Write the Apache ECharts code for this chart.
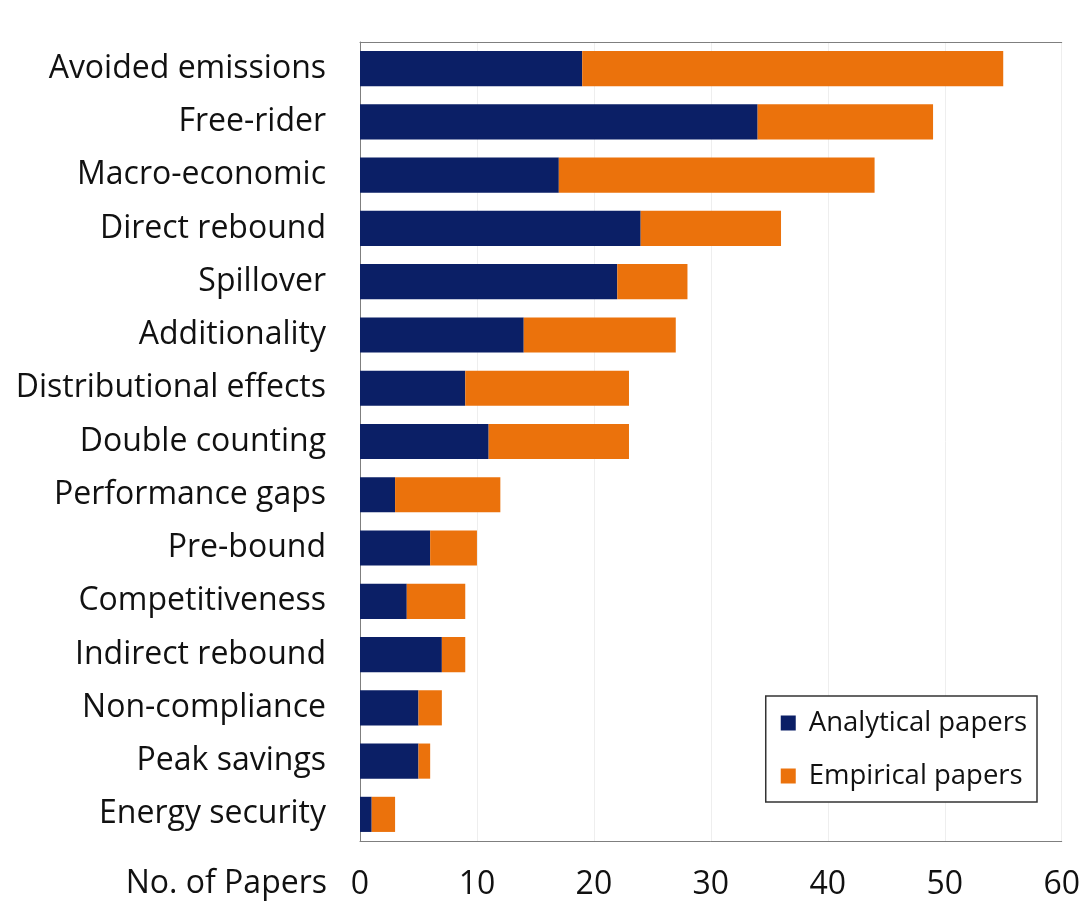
<!DOCTYPE html>
<html><head><meta charset="utf-8">
<script src="https://cdn.jsdelivr.net/npm/echarts@6/dist/echarts.min.js"></script>
<style>html,body{margin:0;padding:0;background:#fff}#c{width:1083px;height:907px}</style>
</head><body><div id="c"></div>
<script>
const categories = ["Avoided emissions","Free-rider","Macro-economic","Direct rebound","Spillover","Additionality","Distributional effects","Double counting","Performance gaps","Pre-bound","Competitiveness","Indirect rebound","Non-compliance","Peak savings","Energy security"];
const analytical = [19,34,17,24,22,14,9,11,3,6,4,7,5,5,1];
const empirical  = [36,15,27,12,6,13,14,12,9,4,5,2,2,1,2];
const xTicks = [0,10,20,30,40,50,60];

const FONT = 'Open Sans';
const chart = echarts.init(document.getElementById('c'));
chart.setOption({
  animation:false,
  grid:{left:360,top:42,right:21,bottom:66,containLabel:false},
  legend:{
    data:['Analytical papers','Empirical papers'],
    orient:'vertical', right:46, bottom:105,
    icon:'rect', itemWidth:15, itemHeight:15, itemGap:25,
    padding:[13,10,12,15],
    borderColor:'#333', borderWidth:1.5, backgroundColor:'#fff',
    textStyle:{fontFamily:FONT,fontSize:27.5,color:'#111',padding:[0,0,0,8]}
  },
  xAxis:[{type:'value',min:0,max:60,interval:10,position:'bottom',
    axisLine:{show:true,onZero:false,lineStyle:{color:'#7f7f7f',width:1}},axisTick:{show:false},
    splitLine:{lineStyle:{color:'#eeeeee',width:1}},
    axisLabel:{fontFamily:FONT,fontSize:32,color:'#111',margin:28,
      formatter:v=>xTicks.includes(v)?String(v):''}},
    {type:'value',min:0,max:60,interval:10,position:'top',
    axisLine:{show:true,onZero:false,lineStyle:{color:'#7f7f7f',width:1}},axisTick:{show:false},
    splitLine:{show:false},axisLabel:{show:false}}],
  yAxis:{type:'category',data:categories,inverse:true,
    axisLine:{show:true,lineStyle:{color:'#7f7f7f',width:1}},axisTick:{show:false},
    axisLabel:{fontFamily:FONT,fontSize:32,color:'#111',margin:34}},
  graphic:[{type:'text',right:1083-327,top:868,style:{text:'No. of Papers',fontFamily:FONT,fontSize:32,fill:'#111'}}],
  series:[
    {name:'Analytical papers',type:'bar',stack:'t',data:analytical,barWidth:'66%',itemStyle:{color:'#0b1f66'}},
    {name:'Empirical papers',type:'bar',stack:'t',data:empirical,barWidth:'66%',itemStyle:{color:'#eb720c'}}
  ]
});
</script></body></html>
